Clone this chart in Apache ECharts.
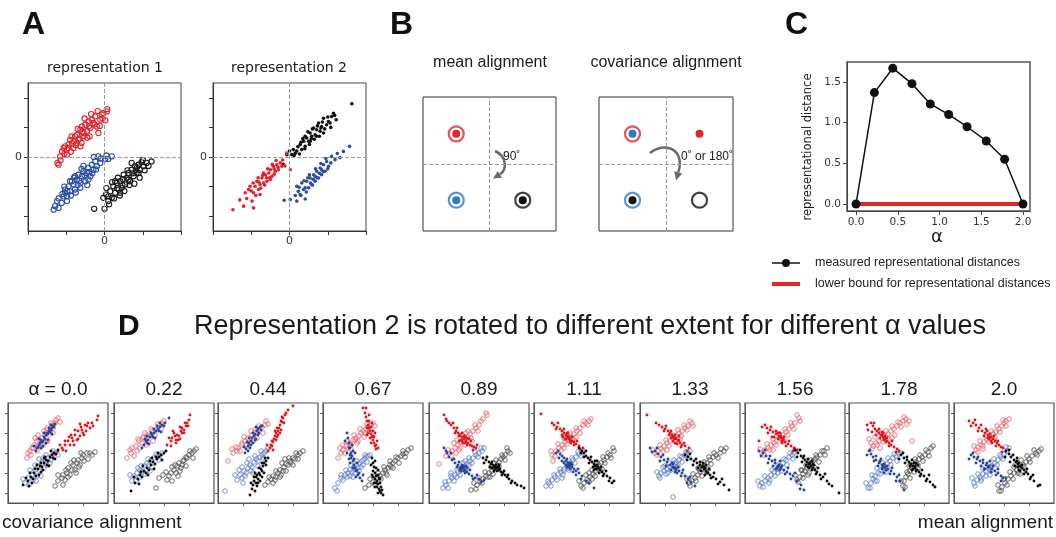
<!DOCTYPE html>
<html><head><meta charset="utf-8">
<script src="https://cdn.jsdelivr.net/npm/echarts@6/dist/echarts.min.js"></script>
<style>html,body{margin:0;padding:0;background:#fff}#c{width:1056px;height:537px}</style>
</head><body><div id="c"></div>
<script>
// ---------- Panel A data (x in [-2,2], y in [-2.5,2.5]) ----------
const rep1Red = [[-1.23,-0.20],[-1.20,-0.26],[-1.16,0.02],[-1.11,0.19],[-1.07,0.30],[-1.03,0.36],[-0.98,0.08],[-0.94,0.42],[-0.90,0.58],[-0.85,0.47],[-0.81,0.30],[-0.77,0.70],[-0.72,0.75],[-0.68,0.58],[-0.63,0.92],[-0.59,1.03],[-0.55,0.81],[-0.50,1.09],[-0.46,0.87],[-0.42,1.20],[-0.37,0.98],[-0.33,1.26],[-0.29,1.15],[-0.24,1.37],[-0.20,1.03],[-0.16,0.81],[-0.11,1.26],[-0.07,1.43],[-0.03,1.48],[0.06,1.54],[0.02,1.24],[-0.72,0.47],[-0.98,0.25],[-0.55,0.70],[-0.39,0.70],[-0.63,0.36],
 [-1.15,-0.10],[-1.05,0.10],[-0.95,0.30],[-0.86,0.70],[-0.80,0.52],[-0.70,0.95],[-0.65,0.62],[-0.58,0.85],[-0.52,1.30],[-0.45,0.65],[-0.40,1.05],[-0.35,1.45],[-0.26,1.10],[-0.18,1.55],[-0.12,1.05],[-0.05,1.30],[0.07,1.62],[-0.88,0.18],[-0.75,0.40],[-0.60,0.48]];
const rep1Blue = [[-1.33,-1.78],[-1.29,-1.66],[-1.20,-1.72],[-1.24,-1.49],[-1.07,-1.33],[-1.03,-1.21],[-0.98,-1.33],[-1.03,-1.10],[-0.94,-0.99],[-0.90,-1.16],[-0.85,-0.82],[-0.81,-0.93],[-0.77,-1.10],[-0.72,-0.76],[-0.68,-0.60],[-0.63,-0.88],[-0.59,-0.65],[-0.55,-0.48],[-0.50,-0.82],[-0.46,-0.54],[-0.42,-0.37],[-0.37,-0.65],[-0.33,-0.26],[-0.29,-0.43],[-0.24,-0.15],[-0.20,-0.31],[-0.16,0.02],[-0.11,-0.20],[0.02,-0.07],[0.10,-0.07],[0.19,0.02],[-0.90,-0.82],[-0.63,-1.04],[-0.77,-0.65],[-0.42,-0.76],[-0.98,-1.49],
 [-1.20,-1.40],[-1.12,-1.55],[-1.05,-1.00],[-0.97,-1.15],[-0.88,-1.30],[-0.80,-0.70],[-0.70,-0.95],[-0.66,-0.80],[-0.60,-0.40],[-0.52,-0.62],[-0.45,-0.95],[-0.40,-0.50],[-0.32,-0.55],[-0.28,0.00],[-0.22,-0.42],[-0.10,-0.05],[0.05,0.05],[-0.75,-1.20],[-0.55,-0.30],[-1.10,-1.25]];
const rep1Black = [[-0.27,-1.75],[0,-1.75],[-0.03,-1.38],[0.04,-1.27],[0.10,-1.49],[0.15,-1.16],[0.19,-1.38],[0.23,-0.99],[0.28,-1.21],[0.32,-0.88],[0.37,-1.10],[0.41,-0.82],[0.45,-1.04],[0.50,-0.60],[0.54,-0.93],[0.58,-0.71],[0.63,-0.54],[0.67,-0.82],[0.71,-0.43],[0.76,-0.65],[0.80,-0.31],[0.84,-0.54],[0.89,-0.26],[0.93,-0.43],[0.97,-0.18],[1.02,-0.31],[1.10,-0.20],[1.23,-0.15],[0.71,-0.20],[0.28,-0.82],[0.10,-1.33],[0.41,-1.21],[0.63,-0.76],[0.89,-0.54],
 [0.05,-1.05],[0.12,-1.60],[0.20,-0.85],[0.25,-1.40],[0.35,-0.70],[0.40,-1.30],[0.48,-0.75],[0.52,-1.15],[0.60,-0.45],[0.65,-0.95],[0.73,-0.55],[0.78,-0.90],[0.85,-0.35],[0.92,-0.70],[1.00,-0.10],[1.05,-0.45],[1.15,-0.30],[0.47,-0.95],[0.33,-1.05],[0.82,-0.45]];
const rep2Black = [[1.63,1.80],[1.15,1.48],[1.10,1.37],[1.02,1.20],[0.97,1.09],[0.89,1.31],[0.84,1.03],[0.80,0.87],[0.76,1.15],[0.71,0.92],[0.67,0.75],[0.63,0.98],[0.58,0.70],[0.54,0.81],[0.50,0.53],[0.45,0.64],[0.41,0.36],[0.37,0.53],[0.32,0.25],[0.28,0.42],[0.19,0.20],[0.15,0.13],[0.10,0.25],[0.06,0.08],[-0.07,0.08],[-0.16,-0.25],[0.89,0.81],[1.06,1.15],[0.54,0.53],[0.41,0.70],[0.71,0.70],[1.22,1.26],
 [0.00,0.20],[0.12,0.05],[0.22,0.35],[0.26,0.10],[0.35,0.62],[0.40,0.28],[0.48,0.85],[0.52,0.42],[0.60,0.95],[0.65,0.60],[0.73,1.05],[0.78,0.70],[0.86,1.18],[0.92,0.95],[1.00,1.35],[1.08,1.00],[1.18,1.40],[0.30,0.50],[0.57,0.62],[0.82,0.98]];
const rep2Red = [[-1.48,-1.78],[-1.20,-1.66],[-0.94,-1.72],[-0.98,-1.49],[-1.16,-1.21],[-1.07,-1.10],[-0.94,-1.21],[-0.90,-0.99],[-0.85,-0.82],[-0.81,-1.10],[-0.77,-0.93],[-0.72,-0.71],[-0.68,-0.88],[-0.63,-0.60],[-0.59,-0.82],[-0.54,-0.54],[-0.50,-0.43],[-0.46,-0.65],[-0.42,-0.31],[-0.37,-0.48],[-0.33,-0.26],[-0.29,-0.43],[-0.24,-0.20],[-0.20,-0.31],[-0.07,0.13],[0.02,-0.43],[-0.77,-1.27],[-1.03,-0.99],[-0.50,-0.76],[-0.68,-0.54],
 [-1.30,-1.45],[-1.12,-1.40],[-1.00,-1.15],[-0.95,-0.88],[-0.88,-1.30],[-0.82,-0.70],[-0.75,-1.05],[-0.70,-0.62],[-0.65,-0.95],[-0.57,-0.40],[-0.52,-0.70],[-0.45,-0.25],[-0.40,-0.58],[-0.35,-0.12],[-0.30,-0.35],[-0.18,-0.10],[-0.12,-0.30],[-0.60,-0.70],[-0.80,-0.85],[-0.40,-0.40]];
const rep2Blue = [[-0.14,-1.46],[0.02,-1.44],[0.19,-1.49],[0.41,-1.42],[0.19,-0.99],[0.23,-1.16],[0.32,-0.88],[0.37,-1.10],[0.45,-0.82],[0.50,-1.04],[0.54,-0.71],[0.58,-0.93],[0.63,-0.60],[0.67,-0.82],[0.71,-0.48],[0.76,-0.71],[0.80,-0.37],[0.84,-0.60],[0.89,-0.26],[0.93,-0.48],[0.97,-0.15],[1.02,-0.31],[1.10,0.02],[1.19,-0.09],[1.41,0.19],[1.57,0.36],[0.41,-1.04],[0.67,-0.65],[0.84,-0.43],[0.28,-1.27],
 [0.15,-1.30],[0.25,-1.02],[0.30,-1.30],[0.38,-0.80],[0.44,-1.18],[0.52,-0.60],[0.55,-0.88],[0.62,-0.75],[0.68,-0.40],[0.72,-0.70],[0.78,-0.55],[0.82,-0.22],[0.88,-0.50],[0.95,-0.05],[1.00,-0.40],[1.08,-0.20],[1.25,0.12],[1.32,-0.02],[0.60,-0.95],[0.48,-0.70]];

// ---------- Panel B data (schematic class means) ----------
const bMeanRed = [[0.5,1.45]];
const bMeanBlue = [[0.5,0.46]];
const bMeanBlack = [[1.5,0.46]];
const bCovRedRing = [[0.5,1.45]];
const bCovBlueCenter = [[0.5,1.45]];
const bCovRedDot = [[1.5,1.45]];
const bCovBlueRing = [[0.5,0.46]];
const bCovBlackCenter = [[0.5,0.46]];
const bCovBlackOpen = [[1.5,0.46]];

// ---------- Panel C data ----------
const cAlpha = [0,0.22,0.44,0.67,0.89,1.11,1.33,1.56,1.78,2.0];
const cDistance = [0,1.37,1.67,1.48,1.23,1.10,0.95,0.775,0.55,0];
const cLowerAlpha = [0,2];
const cLowerBound = [0,0];
const cXTicks = [0,0.5,1,1.5,2];
const cYTicks = [0,0.5,1,1.5];
const cLegend = ['measured representational distances','lower bound for representational distances'];

// ---------- Panel D data (local coordinates 0..100) ----------
const dLabels = ['α = 0.0','0.22','0.44','0.67','0.89','1.11','1.33','1.56','1.78','2.0'];
const dRedOpen = [
[[19,45],[20,50],[22,52],[25,55],[27,65],[29,62],[30,57],[34,65],[35,58],[37,68],[39,73],[40,62],[42,72],[44,78],[45,75],[47,80],[50,85],[52,81],[30,68],[38,61],[26,58],[33,56],[41,68],[36,72],[29,52],[45,70],[48,83],[43,80],[23,48],[31,63],[39,75],[24,55]],
[[13,45],[17,50],[18,55],[22,57],[23,52],[25,62],[28,60],[30,65],[32,58],[33,68],[36,67],[38,72],[42,73],[45,77],[48,80],[50,82],[16,53],[20,47],[26,55],[29,66],[34,61],[37,74],[41,68],[44,79],[47,74],[24,64],[31,70],[39,62]],
[[10,42],[15,50],[19,52],[20,55],[24,58],[27,62],[30,65],[32,60],[34,68],[37,70],[39,65],[40,73],[44,76],[47,78],[50,79],[18,56],[22,52],[26,66],[29,58],[33,72],[36,63],[41,77],[45,70],[48,82],[24,60],[38,74],[14,54]],
[[15,45],[18,50],[20,53],[23,57],[25,55],[26,60],[28,58],[30,63],[33,65],[35,62],[36,67],[38,70],[40,72],[42,70],[43,74],[45,76],[48,78],[50,80],[52,77],[17,55],[22,50],[24,62],[28,54],[31,68],[34,60],[37,74],[41,66],[44,79],[47,72],[32,63],[20,58]],
[[10,39],[17,47],[20,50],[23,52],[26,55],[28,63],[29,58],[31,55],[32,61],[35,63],[37,70],[38,66],[41,69],[42,65],[44,72],[47,75],[50,78],[52,82],[57,90],[58,88],[19,53],[22,47],[25,60],[30,53],[33,68],[36,58],[39,72],[43,62],[46,78],[49,72],[54,84],[34,62],[27,50]],
[[19,42],[18,48],[22,52],[25,55],[28,58],[30,55],[31,61],[34,63],[37,66],[40,69],[42,66],[43,72],[46,75],[49,78],[52,80],[55,82],[17,52],[21,47],[24,59],[27,53],[30,65],[33,59],[36,70],[39,64],[42,75],[46,70],[50,82],[54,78],[57,84],[35,66]],
[[15,50],[18,52],[21,54],[24,57],[27,53],[27,60],[30,62],[33,65],[36,67],[39,70],[40,64],[42,72],[45,75],[48,77],[52,80],[13,53],[17,48],[20,58],[23,52],[26,63],[29,57],[32,68],[35,62],[38,73],[41,67],[44,78],[47,73],[50,82],[53,77]],
[[17,50],[20,53],[23,55],[26,58],[28,53],[29,60],[32,63],[35,65],[38,68],[39,62],[41,71],[44,74],[47,77],[50,80],[54,85],[15,54],[19,48],[22,59],[25,53],[28,64],[31,58],[34,69],[37,63],[40,74],[43,68],[46,80],[49,74],[52,88],[55,82]],
[[22,60],[24,57],[27,60],[30,62],[31,55],[33,65],[36,67],[39,69],[42,72],[43,65],[45,74],[48,77],[51,80],[54,82],[57,84],[60,82],[63,62],[20,64],[23,54],[26,66],[28,58],[31,70],[34,61],[37,72],[40,64],[43,77],[46,68],[49,81],[52,76],[55,86],[58,79]],
[[22,53],[24,56],[27,58],[29,54],[30,61],[33,64],[36,66],[39,69],[40,63],[42,71],[45,74],[48,77],[50,80],[52,82],[20,57],[24,51],[26,62],[29,57],[32,67],[35,61],[37,72],[41,66],[43,77],[46,71],[49,83],[52,77],[55,84]]
];
const dRedFill = [
[[50,52],[54,55],[55,53],[57,58],[60,62],[62,58],[64,65],[65,62],[67,68],[69,63],[70,72],[72,67],[74,73],[75,70],[77,78],[79,77],[80,80],[82,75],[89,83],[52,58],[58,52],[61,66],[66,58],[70,64],[73,76],[78,72],[84,80],[85,77],[67,73],[63,68],[76,68],[57,62],[72,79],[90,87]],
[[53,58],[57,62],[58,65],[60,70],[62,63],[62,60],[63,68],[65,67],[67,72],[68,70],[68,75],[70,73],[72,77],[73,80],[75,83],[55,65],[57,57],[61,67],[64,63],[66,76],[70,70],[71,80],[74,77],[59,72],[66,64],[76,88]],
[[50,52],[52,55],[53,58],[54,57],[55,61],[56,64],[57,67],[58,70],[59,66],[60,72],[61,75],[62,78],[63,73],[64,81],[65,85],[67,88],[68,90],[75,97],[49,58],[54,62],[55,53],[58,63],[59,75],[62,70],[63,82],[66,80],[60,68],[57,72],[64,86],[70,93]],
[[40,95],[42,90],[43,86],[44,82],[45,78],[45,70],[46,75],[46,82],[47,72],[48,69],[48,76],[49,66],[50,63],[50,67],[51,60],[52,57],[53,54],[54,62],[43,95],[44,75],[46,88],[47,65],[49,80],[50,72],[51,66],[52,70],[48,60],[44,68],[53,58],[55,55]],
[[15,88],[17,84],[20,80],[22,78],[25,75],[27,72],[29,70],[30,62],[31,68],[32,63],[33,66],[34,60],[35,64],[36,67],[37,62],[38,65],[39,60],[41,58],[43,57],[45,56],[47,55],[18,82],[24,80],[28,75],[30,67],[33,70],[36,60],[38,58],[40,64],[42,62],[44,53],[35,67],[33,62],[37,65],[26,70],[48,58]],
[[7,89],[18,80],[20,78],[23,76],[26,74],[28,72],[30,70],[31,64],[32,68],[33,70],[34,66],[36,64],[37,60],[38,62],[40,61],[42,59],[45,57],[49,55],[22,74],[24,80],[28,68],[30,74],[32,64],[34,70],[35,66],[36,62],[38,66],[40,58],[43,62],[46,54],[33,67],[35,64],[29,66]],
[[7,88],[19,78],[22,76],[25,74],[28,72],[30,70],[31,65],[32,68],[34,66],[35,60],[36,64],[38,62],[39,67],[40,60],[42,58],[45,57],[49,55],[16,80],[24,72],[26,77],[29,68],[31,72],[33,62],[35,68],[36,65],[37,59],[39,63],[41,56],[44,60],[47,52],[34,64],[33,66]],
[[14,62],[20,78],[22,75],[25,73],[27,66],[28,71],[31,69],[33,70],[34,67],[36,65],[37,60],[38,63],[40,61],[43,59],[46,57],[49,55],[52,53],[17,76],[23,70],[26,76],[29,66],[31,72],[33,64],[35,70],[36,67],[37,62],[39,66],[41,57],[44,62],[48,52],[35,66],[38,64]],
[[19,73],[22,80],[24,77],[26,74],[28,72],[30,70],[32,68],[33,71],[34,66],[36,64],[37,61],[38,62],[40,60],[42,58],[45,56],[48,54],[50,52],[18,78],[23,71],[25,80],[27,68],[30,74],[31,65],[34,70],[35,63],[36,67],[38,65],[40,57],[43,62],[47,51],[35,65],[33,68]],
[[15,82],[19,80],[22,78],[25,75],[28,72],[31,70],[32,74],[34,68],[37,66],[38,60],[39,64],[41,62],[43,60],[45,58],[47,56],[49,55],[17,77],[21,83],[24,72],[27,78],[30,67],[33,72],[35,64],[36,69],[37,62],[40,67],[42,57],[44,62],[48,51],[36,66],[34,65]]
];
const dBlueOpen = [
[[17,20],[20,25],[24,28],[25,23],[27,33],[29,27],[30,37],[32,32],[34,40],[35,45],[37,43],[39,38],[40,45],[44,47],[47,50],[50,48],[15,24],[21,18],[27,38],[33,27],[36,35],[42,40],[45,52],[22,33],[31,44],[38,48],[28,22],[43,43]],
[[18,22],[20,27],[23,30],[25,25],[26,33],[28,31],[30,37],[33,40],[35,38],[37,43],[40,45],[43,47],[46,48],[48,50],[16,28],[22,22],[27,37],[31,29],[34,44],[38,36],[42,49],[45,43],[24,35],[36,32]],
[[7,12],[19,23],[22,28],[24,25],[25,20],[26,32],[28,30],[30,35],[32,38],[34,36],[35,30],[36,41],[38,44],[40,42],[42,46],[44,48],[46,50],[48,52],[17,28],[21,33],[27,27],[29,40],[33,32],[37,47],[40,37],[43,52],[45,45],[31,44],[24,36],[50,55]],
[[12,15],[14,12],[18,25],[22,28],[25,30],[27,33],[29,31],[30,26],[31,36],[33,38],[35,35],[37,40],[38,36],[39,42],[41,44],[43,46],[45,47],[47,48],[15,20],[20,23],[23,33],[27,27],[28,38],[32,30],[34,42],[36,32],[40,38],[42,48],[44,41],[24,26],[18,28]],
[[14,15],[17,18],[20,22],[22,30],[23,25],[26,28],[28,26],[29,31],[32,33],[35,36],[38,39],[40,38],[41,42],[44,45],[47,48],[50,50],[53,52],[55,55],[16,21],[19,15],[22,27],[25,22],[28,33],[31,28],[34,40],[37,34],[40,45],[43,40],[46,51],[49,46],[52,55],[36,42]],
[[12,17],[15,20],[18,23],[21,26],[24,29],[27,31],[28,25],[30,34],[33,37],[35,33],[36,40],[39,43],[42,46],[45,49],[49,52],[14,22],[17,17],[20,28],[23,23],[26,34],[29,28],[32,40],[35,35],[38,45],[41,40],[44,51],[47,47],[30,32]],
[[19,27],[21,30],[24,32],[25,37],[27,34],[28,30],[30,36],[33,38],[33,6],[36,41],[38,37],[39,43],[42,46],[45,48],[48,50],[50,52],[17,31],[20,25],[23,36],[26,29],[29,40],[31,33],[34,43],[37,36],[40,47],[42,41],[46,51],[48,45],[35,39]],
[[15,17],[17,20],[20,22],[23,25],[25,23],[26,28],[29,31],[32,34],[33,30],[35,37],[38,40],[41,43],[44,46],[47,48],[49,50],[13,22],[18,16],[20,27],[24,20],[27,33],[30,27],[33,38],[36,32],[39,44],[42,38],[45,50],[48,44],[51,53],[34,35]],
[[19,15],[22,20],[24,24],[26,27],[28,22],[29,30],[32,33],[35,36],[37,31],[38,39],[41,42],[44,45],[47,47],[50,49],[52,50],[17,20],[21,15],[23,28],[26,22],[28,35],[31,29],[34,40],[36,33],[39,45],[42,38],[45,49],[48,42],[35,37]],
[[20,20],[23,23],[26,26],[27,22],[29,29],[32,32],[35,34],[36,28],[38,37],[41,40],[44,43],[47,46],[50,49],[53,52],[55,55],[18,25],[21,17],[24,29],[27,24],[29,34],[32,27],[35,39],[37,32],[40,44],[43,38],[46,48],[49,44],[52,56],[36,36]]
];
const dBlueFill = [
[[28,52],[29,55],[30,56],[31,58],[32,60],[33,63],[34,61],[35,62],[36,66],[37,64],[38,68],[39,70],[40,69],[41,72],[42,71],[43,73],[44,75],[45,77],[46,76],[47,79],[26,57],[33,55],[36,70],[40,63],[43,78],[31,64],[38,60],[44,69],[35,57],[41,75]],
[[28,55],[30,58],[32,62],[33,60],[34,63],[36,66],[38,68],[39,66],[40,70],[42,72],[44,74],[45,72],[46,76],[48,78],[51,80],[55,85],[31,64],[35,59],[37,70],[41,65],[43,77],[47,71],[50,77],[33,67],[40,74],[46,80]],
[[27,50],[28,54],[30,52],[30,57],[31,60],[33,58],[33,62],[34,65],[36,67],[37,69],[38,64],[39,72],[40,74],[41,70],[42,76],[44,77],[26,56],[29,61],[32,55],[35,70],[37,63],[40,68],[43,73],[38,76],[31,65],[35,60]],
[[24,70],[25,65],[26,60],[27,55],[27,48],[28,50],[28,45],[29,58],[30,42],[30,52],[31,38],[32,35],[33,32],[34,40],[35,28],[37,25],[39,22],[22,62],[26,55],[24,50],[29,47],[31,44],[27,40],[32,50],[34,33],[36,30],[33,26],[30,35],[40,28],[26,44]],
[[15,55],[18,50],[20,46],[23,43],[26,40],[29,38],[31,33],[32,36],[33,38],[34,35],[35,32],[36,33],[37,37],[38,31],[40,29],[43,27],[46,25],[50,24],[55,23],[17,52],[22,50],[25,44],[28,36],[30,41],[32,32],[34,37],[36,30],[38,35],[41,33],[44,24],[48,28],[52,21],[33,34],[35,36],[31,35]],
[[24,52],[26,49],[28,47],[30,45],[32,42],[33,36],[34,40],[36,38],[37,40],[38,36],[40,34],[42,32],[45,30],[48,27],[52,22],[60,15],[22,50],[25,45],[28,42],[30,40],[32,38],[33,44],[35,36],[36,34],[38,38],[39,31],[42,28],[44,34],[47,24],[55,20],[34,38],[35,40]],
[[10,55],[15,52],[18,49],[21,46],[24,43],[27,41],[30,38],[32,40],[33,36],[35,31],[36,34],[39,32],[42,30],[45,27],[48,24],[51,21],[55,17],[12,51],[17,55],[20,42],[23,48],[26,37],[28,44],[31,33],[33,39],[35,35],[37,30],[38,36],[41,27],[43,33],[47,20],[50,26],[34,35],[36,33]],
[[14,52],[18,50],[21,47],[24,44],[27,42],[30,40],[31,34],[33,37],[35,42],[36,35],[39,33],[42,31],[45,29],[48,27],[52,22],[56,18],[59,13],[16,47],[20,53],[23,40],[25,47],[28,37],[30,43],[32,35],[34,38],[35,33],[37,37],[40,29],[43,35],[46,24],[50,30],[55,14],[33,36]],
[[20,52],[22,49],[24,46],[27,43],[30,40],[32,44],[33,38],[35,30],[36,36],[39,34],[42,32],[45,29],[48,26],[51,22],[55,13],[18,48],[21,53],[25,42],[27,47],[29,37],[31,42],[33,34],[35,39],[37,33],[38,37],[41,29],[43,35],[47,22],[50,28],[34,36]],
[[17,48],[20,46],[23,44],[26,42],[29,40],[30,34],[32,38],[35,36],[36,42],[38,34],[41,32],[44,30],[47,27],[49,25],[15,44],[19,50],[22,40],[24,46],[27,37],[29,43],[31,34],[33,40],[34,36],[37,31],[39,37],[42,28],[44,34],[47,22],[52,25],[35,37]]
];
const dBlackOpen = [
[[47,17],[50,22],[54,25],[55,28],[57,23],[59,30],[60,35],[62,28],[64,33],[65,38],[67,33],[69,40],[70,43],[72,38],[74,45],[75,48],[79,50],[82,50],[87,51],[50,28],[55,18],[60,26],[63,40],[68,30],[71,36],[76,42],[80,44],[84,48],[66,43],[58,33],[73,50]],
[[42,15],[45,25],[49,28],[53,23],[55,27],[57,30],[60,33],[62,30],[63,37],[65,40],[67,35],[68,38],[70,43],[72,46],[73,45],[75,48],[78,50],[80,52],[52,31],[58,22],[61,38],[64,27],[69,42],[72,37],[76,52],[79,45],[58,36],[66,32],[82,54]],
[[47,18],[50,21],[53,24],[55,27],[58,26],[60,30],[62,33],[63,28],[65,32],[66,36],[68,39],[70,38],[72,42],[73,40],[75,45],[77,44],[80,48],[82,50],[85,52],[51,26],[55,20],[58,32],[62,26],[64,40],[68,32],[71,45],[75,38],[78,50],[80,44],[57,23],[67,44]],
[[42,15],[46,18],[50,21],[54,25],[57,27],[60,30],[62,33],[63,30],[65,35],[67,38],[68,36],[70,40],[72,42],[75,45],[78,47],[80,49],[83,50],[85,53],[47,24],[52,18],[55,30],[58,24],[61,36],[64,28],[67,42],[70,35],[73,46],[76,40],[80,52],[82,46],[88,55]],
[[42,13],[48,18],[51,21],[54,24],[57,27],[60,30],[61,26],[63,32],[65,40],[66,35],[68,38],[69,34],[70,41],[72,44],[74,46],[76,48],[79,52],[45,20],[47,14],[50,25],[53,20],[56,31],[59,26],[62,36],[64,29],[67,43],[70,37],[73,48],[76,43],[78,55],[81,50]],
[[47,17],[50,20],[53,23],[55,30],[56,26],[58,24],[59,29],[61,32],[63,35],[65,38],[67,40],[68,34],[70,43],[73,46],[76,48],[80,52],[45,22],[49,15],[52,28],[55,21],[58,33],[61,27],[63,40],[66,33],[69,46],[71,40],[74,50],[77,45],[79,55]],
[[49,20],[52,22],[55,25],[58,28],[58,35],[60,31],[62,34],[64,37],[67,40],[68,34],[70,43],[73,46],[76,48],[80,50],[84,52],[47,24],[50,17],[53,29],[56,22],[59,34],[62,27],[64,41],[66,32],[69,46],[71,39],[74,50],[78,45],[81,54],[86,55]],
[[52,23],[55,26],[57,33],[58,29],[60,32],[62,35],[63,28],[64,37],[66,40],[67,36],[68,42],[70,44],[72,46],[75,48],[79,52],[50,28],[53,21],[56,33],[58,25],[61,38],[64,30],[66,43],[69,36],[71,48],[74,41],[77,52],[80,48],[82,55]],
[[54,17],[55,22],[57,26],[59,29],[60,37],[61,32],[63,35],[65,38],[67,41],[69,35],[70,44],[73,46],[76,48],[79,51],[82,55],[52,22],[56,16],[58,31],[61,25],[62,38],[65,31],[66,44],[69,38],[71,48],[74,42],[77,53],[80,47],[84,57]],
[[45,12],[48,16],[51,20],[54,24],[57,27],[60,30],[60,36],[63,33],[66,35],[66,29],[69,38],[72,41],[75,44],[78,47],[82,50],[85,52],[44,18],[47,12],[50,24],[53,18],[56,31],[59,24],[61,38],[64,30],[67,43],[70,36],[73,47],[76,41],[80,53],[83,48],[87,54]]
];
const dBlackFill = [
[[15,18],[20,22],[22,30],[23,26],[25,24],[26,30],[28,27],[30,34],[32,37],[33,31],[34,36],[36,40],[37,46],[38,43],[39,38],[40,42],[42,46],[44,48],[45,45],[46,50],[48,49],[50,53],[18,25],[21,17],[27,34],[31,28],[35,33],[41,37],[43,52],[29,38],[24,20],[47,44],[36,45],[33,40]],
[[17,12],[21,20],[24,24],[26,28],[28,26],[30,32],[32,30],[33,35],[35,33],[37,38],[38,45],[39,41],[41,39],[43,44],[45,46],[47,48],[50,50],[52,52],[20,26],[25,19],[29,37],[34,28],[36,42],[40,34],[44,50],[48,43],[27,31],[42,46]],
[[32,8],[34,14],[35,18],[36,22],[38,20],[38,26],[39,17],[40,24],[41,30],[42,28],[43,34],[44,26],[44,32],[45,37],[46,40],[48,42],[50,45],[33,20],[37,12],[37,30],[40,20],[41,35],[42,22],[44,40],[46,30],[47,45],[39,28],[36,26],[48,38]],
[[49,45],[50,40],[51,36],[50,32],[52,30],[53,35],[53,27],[52,24],[54,22],[55,28],[55,19],[54,16],[56,14],[57,24],[57,12],[58,10],[60,8],[51,20],[48,38],[52,42],[49,28],[55,33],[53,20],[56,25],[58,16],[55,10],[57,20],[50,26],[59,13],[52,16]],
[[54,45],[57,43],[60,41],[62,39],[63,35],[64,38],[65,32],[66,36],[68,35],[70,38],[70,33],[72,31],[74,30],[76,28],[78,26],[80,24],[83,22],[86,20],[95,15],[55,40],[58,46],[61,36],[63,41],[65,36],[67,38],[68,32],[69,36],[71,34],[73,28],[75,32],[79,28],[82,20],[88,18],[92,17],[66,34],[70,36]],
[[45,55],[48,52],[50,50],[52,47],[54,45],[56,43],[58,41],[60,39],[60,33],[62,37],[63,42],[64,35],[66,33],[68,31],[70,29],[73,27],[76,25],[80,22],[47,50],[50,46],[52,52],[55,40],[57,46],[59,36],[61,42],[62,34],[63,38],[65,30],[67,36],[69,27],[72,32],[75,22],[78,20],[61,37],[64,36]],
[[45,48],[48,46],[51,44],[54,42],[57,40],[60,38],[62,36],[63,40],[64,34],[65,28],[66,32],[68,30],[70,28],[73,26],[76,24],[80,21],[84,18],[89,13],[47,43],[50,49],[53,38],[56,44],[58,35],[60,41],[61,32],[63,37],[65,35],[66,38],[67,30],[69,34],[71,25],[74,30],[78,19],[82,24],[64,36]],
[[50,53],[53,50],[56,47],[58,45],[60,43],[62,41],[63,36],[64,39],[66,37],[67,42],[68,35],[70,33],[72,31],[75,28],[78,26],[82,22],[87,17],[94,10],[52,46],[55,53],[57,41],[59,47],[61,38],[63,44],[64,35],[65,40],[67,33],[69,38],[71,29],[73,35],[76,24],[80,29],[84,19],[66,37],[68,39]],
[[52,48],[55,45],[58,43],[60,41],[62,39],[63,33],[64,37],[66,35],[67,40],[68,33],[70,31],[72,29],[75,27],[78,24],[81,21],[84,18],[50,44],[54,50],[56,40],[58,46],[61,37],[63,43],[64,34],[65,40],[67,32],[69,38],[71,27],[73,33],[77,22],[80,28],[86,16],[66,37]],
[[52,52],[55,49],[57,46],[60,43],[62,41],[63,42],[64,39],[65,33],[66,37],[68,35],[70,33],[72,31],[74,29],[77,26],[80,22],[84,17],[51,46],[55,53],[56,41],[59,48],[61,37],[63,45],[64,36],[65,40],[66,32],[68,38],[70,29],[73,34],[76,24],[79,28],[86,18],[67,36]]
];

// ---------- layout / styles ----------
const SANS = '"Liberation Sans", Arial, sans-serif';
const DJ = '"DejaVu Sans", sans-serif';
const dLeft = [8,114,218,323,429,534,640,745,849,954];

const grids = [], xAxes = [], yAxes = [], series = [];
function addGrid(g){ grids.push(Object.assign({show:true, backgroundColor:'#fff', containLabel:false}, g)); return grids.length-1; }

// A grids
[[28],[213]].forEach(([l])=>{
  const gi = addGrid({left:l, top:83, width:153, height:148, borderColor:'#444', borderWidth:1});
  xAxes.push({gridIndex:gi, type:'value', min:-2, max:2, interval:1,
    axisLine:{show:true, onZero:false, lineStyle:{color:'#333'}}, axisTick:{show:true, length:4, lineStyle:{color:'#333'}},
    axisLabel:{formatter:v=>v===0?'0':'', fontFamily:DJ, fontSize:11, color:'#333', margin:5}, splitLine:{show:false}});
  yAxes.push({gridIndex:gi, type:'value', min:-2.5, max:2.5,
    axisLine:{show:true, onZero:false, lineStyle:{color:'#333'}}, axisTick:{show:true, length:4, customValues:[-2,-1,0,1,2], lineStyle:{color:'#333'}},
    axisLabel:{customValues:[0], formatter:v=>'0', fontFamily:DJ, fontSize:11, color:'#333', margin:6}, splitLine:{show:false}});
});
const zeroLines = {silent:true, symbol:'none', animation:false, label:{show:false}, lineStyle:{type:'dashed', color:'#9a9a9a', width:1}, data:[{xAxis:0},{yAxis:0}]};
function openS(gi, data, color, size, bw, extra){ return Object.assign({type:'scatter', xAxisIndex:gi, yAxisIndex:gi, data, symbol:'circle', symbolSize:size, silent:true,
  itemStyle:{color:'rgba(255,255,255,0)', borderColor:color, borderWidth:bw, opacity:1}}, extra||{}); }
function fillS(gi, data, color, size, extra){ return Object.assign({type:'scatter', xAxisIndex:gi, yAxisIndex:gi, data, symbol:'circle', symbolSize:size, silent:true,
  itemStyle:{color:color, opacity:1}}, extra||{}); }

series.push(openS(0, rep1Red, '#e0232b', 5.2, 1.1, {markLine:zeroLines}));
series.push(openS(0, rep1Blue, '#2c4ea0', 5.2, 1.1));
series.push(openS(0, rep1Black, '#1a1a1a', 5.2, 1.1));
series.push(fillS(1, rep2Black, '#111', 3.6, {markLine:zeroLines}));
series.push(fillS(1, rep2Red, '#e0232b', 3.6));
series.push(fillS(1, rep2Blue, '#2c4ea0', 3.6));

// B grids
const bRed='#e3242b', bBlue='#2f7bbf', bBlack='#111';
[[423,133],[599,134]].forEach(([l,w])=>{
  const gi = addGrid({left:l, top:97, width:w, height:134, borderColor:'#333', borderWidth:1});
  xAxes.push({gridIndex:gi, type:'value', min:0, max:2, show:false});
  yAxes.push({gridIndex:gi, type:'value', min:0, max:2, show:false});
});
const bCross = {silent:true, symbol:'none', animation:false, label:{show:false}, lineStyle:{type:'dashed', color:'#999', width:1}, data:[{xAxis:1},{yAxis:1}]};
function ring(gi, data, color, extra){ return Object.assign({type:'scatter', xAxisIndex:gi, yAxisIndex:gi, data, symbol:'circle', symbolSize:15, silent:true,
  itemStyle:{color:'#fff', borderColor:color, borderWidth:2.2}}, extra||{}); }
series.push(ring(2, bMeanRed, bRed, {markLine:bCross}));
series.push(fillS(2, bMeanRed, bRed, 8));
series.push(ring(2, bMeanBlue, bBlue));
series.push(fillS(2, bMeanBlue, bBlue, 8));
series.push(ring(2, bMeanBlack, bBlack));
series.push(fillS(2, bMeanBlack, bBlack, 8));
series.push(ring(3, bCovRedRing, bRed, {markLine:bCross}));
series.push(fillS(3, bCovBlueCenter, bBlue, 8));
series.push(fillS(3, bCovRedDot, bRed, 8));
series.push(ring(3, bCovBlueRing, bBlue));
series.push(fillS(3, bCovBlackCenter, bBlack, 8));
series.push(ring(3, bCovBlackOpen, bBlack));

// C grid
const cg = addGrid({left:847, top:62, width:183, height:149, borderColor:'#555', borderWidth:1.5});
xAxes.push({gridIndex:cg, type:'value', min:-0.108, max:2.084,
  axisLine:{show:true, onZero:false, lineStyle:{color:'#444'}}, axisTick:{show:true, length:4, customValues:cXTicks, lineStyle:{color:'#444'}},
  axisLabel:{customValues:cXTicks, formatter:v=>v.toFixed(1), fontFamily:DJ, fontSize:10.5, color:'#333', margin:6}, splitLine:{show:false}});
yAxes.push({gridIndex:cg, type:'value', min:-0.086, max:1.746,
  axisLine:{show:true, onZero:false, lineStyle:{color:'#444'}}, axisTick:{show:true, length:4, customValues:cYTicks, lineStyle:{color:'#444'}},
  axisLabel:{customValues:cYTicks, formatter:v=>v.toFixed(1), fontFamily:DJ, fontSize:10.5, color:'#333', margin:6}, splitLine:{show:false}});
series.push({type:'line', name:cLegend[1], xAxisIndex:cg, yAxisIndex:cg, data:cLowerAlpha.map((a,i)=>[a,cLowerBound[i]]),
  symbol:'none', lineStyle:{color:'#e0262b', width:4}, itemStyle:{color:'#e0262b'}, silent:true, z:2});
series.push({type:'line', name:cLegend[0], xAxisIndex:cg, yAxisIndex:cg, data:cAlpha.map((a,i)=>[a,cDistance[i]]),
  symbol:'circle', symbolSize:9, lineStyle:{color:'#111', width:1.5}, itemStyle:{color:'#111'}, silent:true, z:3});

// D grids
dLeft.forEach((l,i)=>{
  const gi = addGrid({left:l, top:403, width:100, height:100, borderColor:'#555', borderWidth:1.2});
  xAxes.push({gridIndex:gi, type:'value', min:0, max:100,
    axisLine:{show:true, onZero:false, lineStyle:{color:'#555'}}, axisTick:{show:true, length:3, customValues:[25,50,75], lineStyle:{color:'#555'}},
    axisLabel:{show:false}, splitLine:{show:false}});
  yAxes.push({gridIndex:gi, type:'value', min:0, max:100,
    axisLine:{show:true, onZero:false, lineStyle:{color:'#555'}}, axisTick:{show:true, length:3, customValues:[10,30,50,70,90], lineStyle:{color:'#555'}},
    axisLabel:{show:false}, splitLine:{show:false}});
  series.push(openS(gi, dRedOpen[i], '#e4606a', 4.6, 0.8));
  series.push(openS(gi, dBlueOpen[i], '#5a78c0', 4.6, 0.8));
  series.push(openS(gi, dBlackOpen[i], '#4a4a4a', 4.6, 0.8));
  series.push(fillS(gi, dRedFill[i], '#e0161e', 2.9));
  series.push(fillS(gi, dBlueFill[i], '#28469a', 2.9));
  series.push(fillS(gi, dBlackFill[i], '#111', 2.9));
});

// texts, legend of C, arrows
function txt(text, x, y, size, family, opts){ return Object.assign({type:'text', x, y, silent:true,
  style:Object.assign({text, fontSize:size, fontFamily:family, fill:'#1a1a1a', textAlign:'center', textVerticalAlign:'middle'}, (opts&&opts.style)||{})},
  opts&&opts.rotation!==undefined?{rotation:opts.rotation}:{}); }
const graphics = [
  txt('A', 22, 25, 32, SANS, {style:{fontWeight:'bold', textAlign:'left', fill:'#111'}}),
  txt('B', 390, 25, 32, SANS, {style:{fontWeight:'bold', textAlign:'left', fill:'#111'}}),
  txt('C', 785, 25, 32, SANS, {style:{fontWeight:'bold', textAlign:'left', fill:'#111'}}),
  txt('D', 118, 327, 30, SANS, {style:{fontWeight:'bold', textAlign:'left', fill:'#111'}}),
  txt('representation 1', 105, 68, 14, DJ),
  txt('representation 2', 289, 68, 14, DJ),
  txt('mean alignment', 490, 63, 16, SANS),
  txt('covariance alignment', 666, 63, 16, SANS),
  txt('90˚', 503, 157, 12, SANS, {style:{textAlign:'left'}}),
  txt('0˚ or 180˚', 681, 157, 12, SANS, {style:{textAlign:'left'}}),
  txt('representational distance', 808, 147, 11.5, DJ, {rotation:Math.PI/2}),
  txt('α', 937, 237, 18, DJ),
  txt('Representation 2 is rotated to different extent for different α values', 590, 327, 27, SANS),
  txt('covariance alignment', 2, 523, 19, SANS, {style:{textAlign:'left'}}),
  txt('mean alignment', 1053, 523, 19, SANS, {style:{textAlign:'right'}}),
  // legend for panel C
  {type:'line', silent:true, shape:{x1:772,y1:263,x2:800,y2:263}, style:{stroke:'#111', lineWidth:1.5}},
  {type:'circle', silent:true, shape:{cx:786,cy:263,r:4}, style:{fill:'#111'}},
  {type:'line', silent:true, shape:{x1:772,y1:284,x2:800,y2:284}, style:{stroke:'#e0262b', lineWidth:4}},
  txt(cLegend[0], 815, 263, 12.5, SANS, {style:{textAlign:'left', fill:'#222'}}),
  txt(cLegend[1], 815, 284, 12.5, SANS, {style:{textAlign:'left', fill:'#222'}}),
  // rotation arrows in panel B
  {type:'bezierCurve', silent:true, shape:{x1:495,y1:151,cpx1:507,cpy1:156,cpx2:507,cpy2:170,x2:500,y2:174.3}, style:{stroke:'#6a6a6a', lineWidth:2.5, fill:null}},
  {type:'polygon', silent:true, shape:{points:[[493,178.5],[502,177.7],[497.7,170.9]]}, style:{fill:'#6a6a6a'}},
  {type:'bezierCurve', silent:true, shape:{x1:650,y1:153,cpx1:664,cpy1:141,cpx2:686,cpy2:149,x2:678.2,y2:172.3}, style:{stroke:'#6a6a6a', lineWidth:2.5, fill:null}},
  {type:'polygon', silent:true, shape:{points:[[676,180.5],[682.2,173.4],[674.3,171.2]]}, style:{fill:'#6a6a6a'}}
];
dLabels.forEach((t,i)=>graphics.push(txt(t, dLeft[i]+50, 390, 19, SANS)));

const chart = echarts.init(document.getElementById('c'), null, {renderer:'canvas'});
chart.setOption({
  animation:false,
  backgroundColor:'#fff',
  grid:grids, xAxis:xAxes, yAxis:yAxes, series,
  graphic:graphics
});
</script></body></html>
